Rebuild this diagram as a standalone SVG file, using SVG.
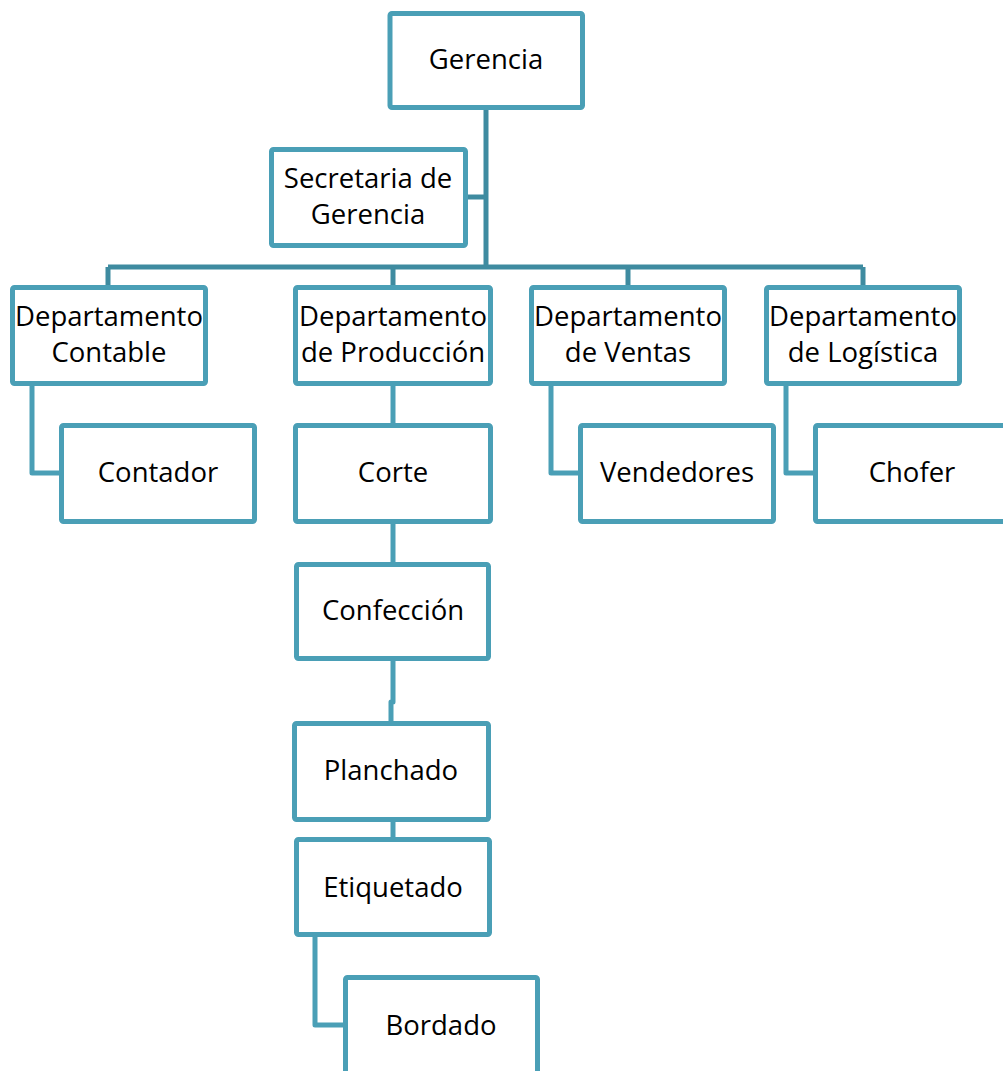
<svg xmlns="http://www.w3.org/2000/svg" width="1003" height="1071" viewBox="0 0 1003 1071">
<style>
.box{fill:#fff;stroke:#4A9FB6;stroke-width:5;stroke-linejoin:round}
.ln{fill:none;stroke:#3E8BA0;stroke-width:5;stroke-linejoin:round}
.ln2{fill:none;stroke:#4A9FB6;stroke-width:5;stroke-linejoin:round}
text{font-family:"Open Sans","Liberation Sans",sans-serif;font-size:27.5px;fill:#000;text-anchor:middle}
</style>
<rect width="1003" height="1071" fill="#fff"/>
<g id="connectors">
<path class="ln" d="M486 110V267"/>
<path class="ln" d="M468 197H486"/>
<path class="ln" d="M108 267H863"/>
<path class="ln" d="M108 267V286M393 267V286M628 267V286M863 267V286"/>
<path class="ln2" d="M32 386V473H59"/>
<path class="ln2" d="M393 386V423"/>
<path class="ln2" d="M551 386V473H578"/>
<path class="ln2" d="M786 386V473H813"/>
<path class="ln2" d="M393 524V562"/>
<path class="ln2" d="M393 661V702H391V721"/>
<path class="ln2" d="M393 822V837"/>
<path class="ln2" d="M315 937V1025H343"/>
</g>
<g id="gerencia"><rect class="box" x="390" y="13.5" width="192.5" height="94" rx="2"/><text x="486" y="69">Gerencia</text></g>
<g id="secretaria"><rect class="box" x="271.5" y="149.5" width="194" height="96" rx="2"/><text x="368" y="188">Secretaria de</text><text x="368" y="224">Gerencia</text></g>
<g id="dep-contable"><rect class="box" x="12.5" y="287.5" width="193" height="96" rx="2"/><text x="109" y="326">Departamento</text><text x="109" y="362">Contable</text></g>
<g id="dep-produccion"><rect class="box" x="295.5" y="287.5" width="195" height="96" rx="2"/><text x="393" y="326">Departamento</text><text x="393" y="362">de Producción</text></g>
<g id="dep-ventas"><rect class="box" x="531.5" y="287.5" width="193" height="96" rx="2"/><text x="628" y="326">Departamento</text><text x="628" y="362">de Ventas</text></g>
<g id="dep-logistica"><rect class="box" x="766.5" y="287.5" width="193" height="96" rx="2"/><text x="863" y="326">Departamento</text><text x="863" y="362">de Logística</text></g>
<g id="contador"><rect class="box" x="61.5" y="425.5" width="193" height="96" rx="2"/><text x="158" y="482">Contador</text></g>
<g id="corte"><rect class="box" x="295.5" y="425.5" width="195" height="96" rx="2"/><text x="393" y="482">Corte</text></g>
<g id="vendedores"><rect class="box" x="580.5" y="425.5" width="193" height="96" rx="2"/><text x="677" y="482">Vendedores</text></g>
<g id="chofer"><rect class="box" x="815.5" y="425.5" width="193" height="96" rx="2"/><text x="912" y="482">Chofer</text></g>
<g id="confeccion"><rect class="box" x="296.5" y="564.5" width="192" height="94" rx="2"/><text x="393" y="620">Confección</text></g>
<g id="planchado"><rect class="box" x="294.5" y="723.5" width="194" height="96" rx="2"/><text x="391" y="780">Planchado</text></g>
<g id="etiquetado"><rect class="box" x="296.5" y="839.5" width="193" height="95" rx="2"/><text x="393" y="897">Etiquetado</text></g>
<g id="bordado"><rect class="box" x="345.5" y="977.5" width="192" height="110" rx="2"/><text x="441" y="1035">Bordado</text></g>
</svg>
